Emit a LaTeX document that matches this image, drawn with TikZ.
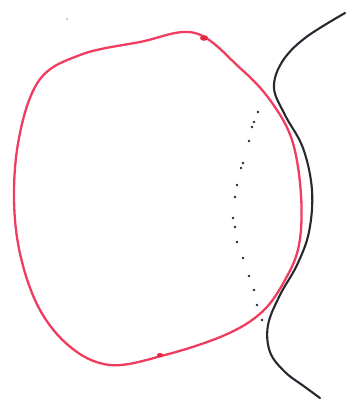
\documentclass[tikz,border=0pt]{standalone}
\definecolor{loopred}{RGB}{240,60,95}
\definecolor{blobred}{RGB}{230,40,60}
\definecolor{inkblack}{RGB}{40,40,50}
\begin{document}
\begin{tikzpicture}[x=1pt,y=-1pt,
  redline/.style={draw=loopred, line width=2.3pt, line cap=round, line join=round},
  blackline/.style={draw=inkblack, line width=2.1pt, line cap=round, line join=round},
  dotmark/.style={fill=inkblack, draw=none}]
\useasboundingbox (0,0) rectangle (350,400);
% red loop
\draw[redline] plot[smooth cycle, tension=0.6] coordinates {
 (195,33) (240,68) (270,100) (292,140) (301,195) (299,245) (285,280) (262,312) (225,335) (165,355) (110,365) (68,345) (35,300) (16,230) (17,150) (38,82) (80,55) (140,42)};
\fill[blobred] (204,38) ellipse (4 and 2.8);
\fill[blobred] (160,355) ellipse (3 and 2);
% black wavy line
\draw[blackline] plot[smooth, tension=0.6] coordinates {
 (345,13) (305,38) (282,62) (274,88) (285,115) (303,148) (312,190) (309,232) (297,265) (280,295) (268,325) (270,352) (285,372) (305,387) (320,398)};
% dotted curve
\foreach \p in {(258,112),(254,122),(252,127),(249,141),(243,163),(241,168),(237,185),(235,197),(233,218),(235,227),(237,242),(243,258),(249,276),(254,290),(257,305),(262,320)}
  \fill[dotmark] \p circle (1.4);
\fill[dotmark] (67,19) circle (0.7);
\end{tikzpicture}
\end{document}
